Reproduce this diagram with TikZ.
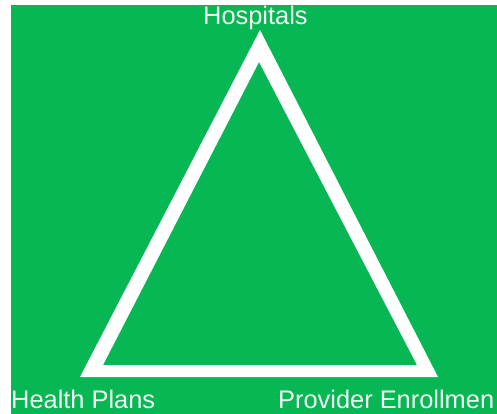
\documentclass[tikz,border=0pt]{standalone}
\usepackage{fontspec}
\setmainfont{Liberation Sans}
\definecolor{bggreen}{RGB}{6,183,84}
\definecolor{labelwhite}{RGB}{242,250,244}
\begin{document}
\begin{tikzpicture}[x=1pt,y=-1pt,
  lab/.style={text=labelwhite, inner sep=0pt, font=\fontsize{25.4}{30}\selectfont, anchor=base west}]
\useasboundingbox (0,0) rectangle (497,414);
\fill[white] (0,0) rectangle (497,414);
\fill[bggreen] (11,5) rectangle (497,414);
\coordinate (oA) at (260,30);
\coordinate (oB) at (80,377);
\coordinate (oC) at (438,377);
\coordinate (iA) at (259,62);
\coordinate (iB) at (103,365);
\coordinate (iC) at (417,365);
\fill[white, even odd rule] (oA) -- (oB) -- (oC) -- cycle (iA) -- (iB) -- (iC) -- cycle;
\node[lab] (hosp) at (203,25) {Hospitals};
\node[lab] (plans) at (11,408) {Health Plans};
\node[lab] (enrol) at (278,408) {Provider Enrollmen};
\end{tikzpicture}
\end{document}
